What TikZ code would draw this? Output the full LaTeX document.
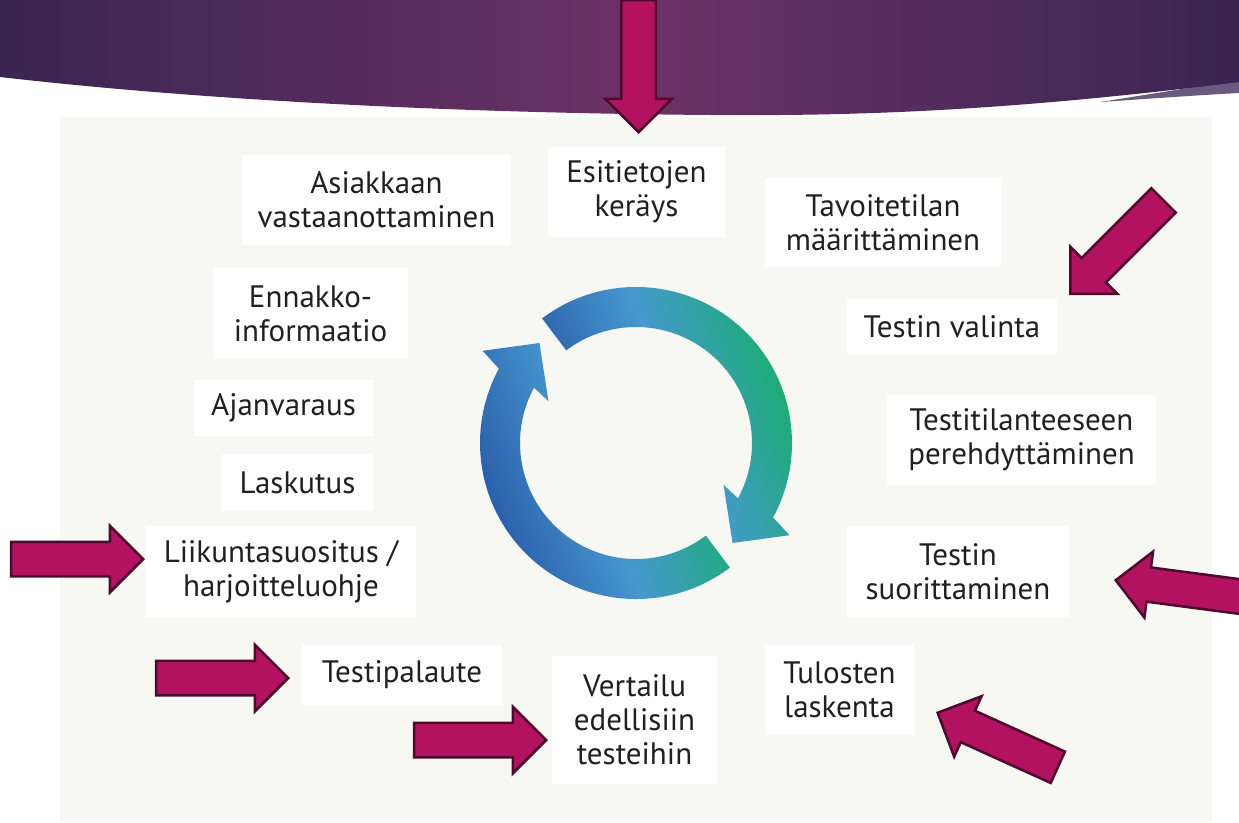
\documentclass[tikz,border=0pt]{standalone}
\usepackage{fontspec}
\setmainfont{PT Sans}
\usetikzlibrary{shapes.arrows}

\definecolor{bannerDarkColour}{RGB}{58, 37, 82}
\definecolor{bannerLightColour}{RGB}{108, 50, 102}
\pgfdeclarehorizontalshading{bannerShading}{100bp}{color(0bp)=(bannerDarkColour); color(25bp)=(bannerDarkColour); color(51bp)=(bannerLightColour); color(75bp)=(bannerDarkColour); color(100bp)=(bannerDarkColour)}

\begin{document}
\begin{tikzpicture}[x=1pt, y=-1pt]
	\definecolor{bannerEdgeColour}{RGB}{106, 90, 128}
	\definecolor{panelColour}{RGB}{247, 247, 243}
	\definecolor{textColour}{RGB}{35, 31, 32}
	\definecolor{pointerColour}{RGB}{178, 18, 96}
	\definecolor{pointerEdgeColour}{RGB}{77, 10, 44}
	\definecolor{cycleBlueColour}{RGB}{38, 84, 165}
	\definecolor{cycleLightColour}{RGB}{70, 153, 207}
	\definecolor{cycleGreenColour}{RGB}{20, 176, 100}
	\tikzstyle{box}=[fill=white, text=textColour, align=center, inner sep=0pt, font=\fontsize{31}{34}\selectfont]
	\tikzstyle{pointer}=[single arrow, draw=pointerEdgeColour, fill=pointerColour, line width=2.5pt, minimum width=64pt, minimum height=132pt, single arrow head extend=16pt, single arrow tip angle=90, inner xsep=0pt, inner ysep=16pt, anchor=tip]

	\useasboundingbox (0,0) rectangle (1239,822);
	\fill[white] (0,0) rectangle (1239,822);
	\fill[panelColour] (60,117) rectangle (1212,822);

	% banner
	\fill[bannerEdgeColour] (1100,102) .. controls (1160,98) and (1200,95) .. (1239,93) -- (1239,80) -- cycle;
	\shade[shading=bannerShading]
		(0,0) -- (1239,0) -- (1239,82) .. controls (1000,112) and (850,116) .. (711,115) .. controls (450,113) and (200,100) .. (0,77) -- cycle;

	% cycle
	\begin{scope}[shift={(636,443)}, y=1pt]
		\shade[left color=cycleBlueColour, right color=cycleGreenColour, middle color=cycleLightColour, shading angle=110]
			(127:156) arc[start angle=127, end angle=-28.5, radius=156] -- (-31:179) -- (-46:139) -- (-25.5:97) -- (-28.5:116) arc[start angle=-28.5, end angle=127, radius=116] -- cycle;
		\shade[left color=cycleBlueColour, right color=cycleGreenColour, middle color=cycleLightColour, shading angle=110]
			(-53:156) arc[start angle=-53, end angle=-208.5, radius=156] -- (149:179) -- (134:139) -- (154.5:97) -- (151.5:116) arc[start angle=151.5, end angle=307, radius=116] -- cycle;
	\end{scope}

	\node[box, minimum width=269pt, minimum height=90pt] (vastaanotto) at (376.5,200) {Asiakkaan\\vastaanottaminen};
	\node[box, minimum width=177pt, minimum height=90pt] (esitiedot) at (636.5,192) {Esitietojen\\keräys};
	\node[box, minimum width=236pt, minimum height=89pt] (tavoite) at (883,222.5) {Tavoitetilan\\määrittäminen};
	\node[box, minimum width=195pt, minimum height=91pt] (ennakko) at (310.5,313.5) {Ennakko-\\informaatio};
	\node[box, minimum width=210pt, minimum height=56pt] (valinta) at (952,327) {Testin valinta};
	\node[box, minimum width=179pt, minimum height=56pt] (ajanvaraus) at (283.5,408) {Ajanvaraus};
	\node[box, minimum width=269pt, minimum height=90pt] (perehdytys) at (1021.5,440) {Testitilanteeseen\\perehdyttäminen};
	\node[box, minimum width=151pt, minimum height=57pt] (laskutus) at (297.5,482.5) {Laskutus};
	\node[box, minimum width=270pt, minimum height=91pt] (liikunta) at (281,571.5) {Liikuntasuositus /\\harjoitteluohje};
	\node[box, minimum width=222pt, minimum height=91pt] (suoritus) at (958,571.5) {Testin\\suorittaminen};
	\node[box, minimum width=200pt, minimum height=60pt] (palaute) at (402,675) {Testipalaute};
	\node[box, minimum width=165pt, minimum height=128pt] (vertailu) at (634.5,720) {Vertailu\\edellisiin\\testeihin};
	\node[box, minimum width=149pt, minimum height=90pt] (laskenta) at (839.5,690) {Tulosten\\laskenta};

	% pointers
	\node[pointer, rotate=270] (toKerays) at (638.5,134) {};
	\node[pointer, rotate=225] (toValinta) at (1069,295) {};
	\node[pointer, rotate=172.5] (toSuoritus) at (1114,580) {};
	\node[pointer] (toLiikunta) at (145,559) {};
	\node[pointer] (toPalaute) at (290,678) {};
	\node[pointer] (toVertailu) at (548,740) {};
	\node[pointer, rotate=155.6] (toLaskenta) at (936,712) {};
\end{tikzpicture}
\end{document}
